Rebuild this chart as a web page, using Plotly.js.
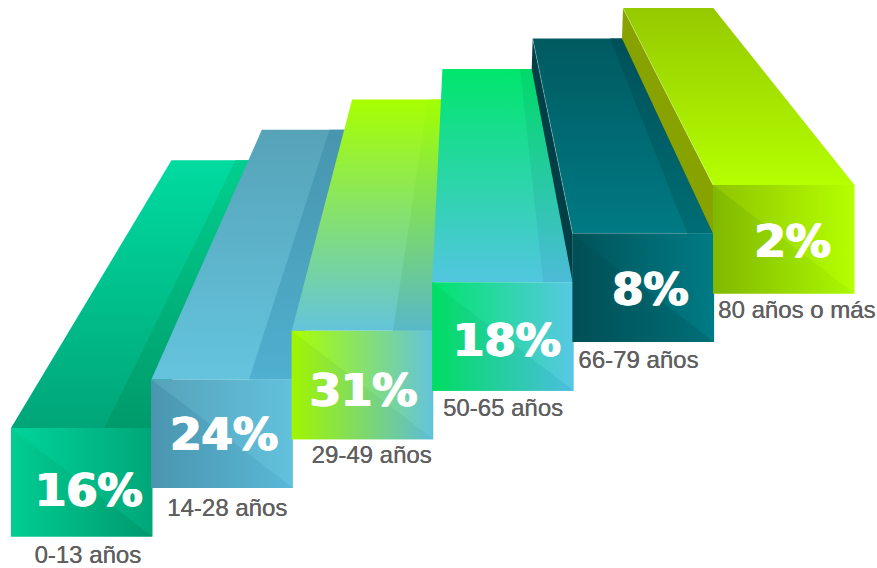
<!DOCTYPE html>
<html>
<head>
<meta charset="utf-8">
<script src="https://cdn.plot.ly/plotly-3.0.1.min.js"></script>
<style>html,body{margin:0;padding:0;background:#fff;overflow:hidden}</style>
</head>
<body>
<div id="chart" style="width:877px;height:568px"></div>
<script>
// Data
const categories = ["0-13 años","14-28 años","29-49 años","50-65 años","66-79 años","80 años o más"];
const shares = [16,24,31,18,8,2];

// Colour ramps per step: [start, end]
const topColors   = [["#00dba0","#00a578"],["#56a3b8","#64c4de"],["#a8ff00","#63c4dc"],["#00e66c","#52c6e0"],["#005a60","#007a84"],["#95c900","#b4ff00"]];
const stripColors = [["#00cf8e","#009a6a"],["#4895ad","#4fb0cf"],["#a3ff00","#58b8c8"],["#00da68","#4cbbd8"],["#005058","#006d74"],null];
const faceColors  = [["#00d49b","#00a678"],["#56a2b9","#62c1dd"],["#aaff00","#63c3dc"],["#00e46a","#58c8e4"],["#005359","#007b85"],["#8fc400","#b4ff00"]];
const lowerColors = [["#00cd92","#00996c"],["#4b95af","#59b9d7"],["#a0f500","#5cbcd6"],["#00dd62","#4cbde0"],["#004f55","#006f78"],["#80b800","#acf800"]];
const sideColors  = [null,null,null,null,"#003f45","#88a200"];

// Stair layout (page pixels through the axes)
const FRONT_X0 = 11, FRONT_DX = 140.4, FRONT_W = 141.5, FRONT_H = 108.5;
const FRONT_Y0 = 428, FRONT_DY = 48.6;
const BACK_X0 = 171.5, BACK_DX = 90.3, BACK_W = 90.3;
const BACK_Y0 = 160.3, BACK_DY = 30.45;
const stripBack  = [0.71,0.75,0.84,0.86,0.855,null];
const stripFront = [0.66,0.69,0.715,0.785,0.81,null];
const pctOffsetX = [7,2,1,4,7,9];
const pctOffsetY = [67,59,64,63,60,61];
const catOffsetX = [6,5,9,0,-5,13];
const catOffsetY = [129,131,126,128,128,127];

const traces = [];
function poly(xs, ys, ramp, type){
  const t = {x:[...xs, xs[0]], y:[...ys, ys[0]], mode:"lines", fill:"toself",
             line:{width:0, color:"rgba(0,0,0,0)"}, hoverinfo:"skip", showlegend:false};
  if (Array.isArray(ramp)) {
    // on the reversed y axis the vertical ramp runs bottom-up on the page
    const r = type === "vertical" ? [ramp[1], ramp[0]] : ramp;
    t.fillgradient = {type:type, colorscale:[[0,r[0]],[1,r[1]]]};
  } else {
    t.fillcolor = ramp;
  }
  traces.push(t);
}

categories.forEach((c,i)=>{
  const fx = FRONT_X0 + FRONT_DX*i, fy = FRONT_Y0 - FRONT_DY*i;
  const bx = BACK_X0 + BACK_DX*i,   by = BACK_Y0 - BACK_DY*i;
  if (sideColors[i]) {
    poly([bx, bx-1, fx, fx], [by, by+BACK_DY, fy+FRONT_DY, fy], sideColors[i]);
  }
  poly([bx, bx+BACK_W, fx+FRONT_W, fx], [by, by, fy, fy], topColors[i], "vertical");
  if (stripColors[i]) {
    poly([bx+BACK_W*stripBack[i], bx+BACK_W, fx+FRONT_W, fx+FRONT_W*stripFront[i]], [by, by, fy, fy], stripColors[i], "vertical");
  }
  if (sideColors[i]) {
    traces.push({x:[bx,fx], y:[by,fy], mode:"lines", line:{width:0.7,color:"rgba(255,255,255,0.4)"}, hoverinfo:"skip", showlegend:false});
  }
  poly([fx, fx+FRONT_W, fx+FRONT_W, fx], [fy, fy, fy+FRONT_H, fy+FRONT_H], faceColors[i], "horizontal");
  poly([fx, fx+FRONT_W, fx], [fy, fy+FRONT_H, fy+FRONT_H], lowerColors[i], "horizontal");
});

// Percent labels
traces.push({
  x: categories.map((c,i)=>FRONT_X0+FRONT_DX*i+FRONT_W/2+pctOffsetX[i]),
  y: categories.map((c,i)=>FRONT_Y0-FRONT_DY*i+pctOffsetY[i]),
  text: shares.map(v=>v+"%"), mode:"text", textposition:"middle center",
  textfont:{family:"DejaVu Sans", size:45, color:"#ffffff", weight:700,
            shadow:"1px 0 0 #fff, -1px 0 0 #fff"},
  hoverinfo:"skip", showlegend:false
});
// Category labels
traces.push({
  x: categories.map((c,i)=>FRONT_X0+FRONT_DX*i+FRONT_W/2+catOffsetX[i]),
  y: categories.map((c,i)=>FRONT_Y0-FRONT_DY*i+catOffsetY[i]),
  text: categories, mode:"text", textposition:"middle center",
  textfont:{family:"Liberation Sans", size:24, color:"#5f5f61",
            shadow:"0.3px 0 0 #5f5f61"},
  hoverinfo:"skip", showlegend:false
});

const layout = {
  width:877, height:568, margin:{l:0,r:0,t:0,b:0},
  paper_bgcolor:"#ffffff", plot_bgcolor:"#ffffff", showlegend:false,
  xaxis:{range:[0,877], visible:false, fixedrange:true},
  yaxis:{range:[568,0], visible:false, fixedrange:true}
};
Plotly.newPlot("chart", traces, layout, {staticPlot:true, displayModeBar:false});
</script>
</body>
</html>
